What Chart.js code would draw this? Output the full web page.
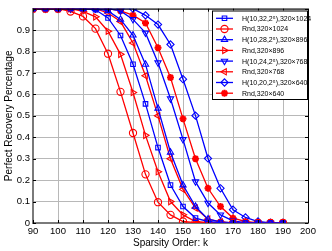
<!DOCTYPE html>
<html>
<head>
<meta charset="utf-8">
<script src="https://cdn.jsdelivr.net/npm/chart.js@4/dist/chart.umd.min.js"></script>
<style>
  html, body { margin: 0; padding: 0; background: #fff; }
  #wrap { width: 332px; height: 251px; }
</style>
</head>
<body>
<div id="wrap"><canvas id="chart"></canvas></div>
<script>
// sparsity order k (x axis)
const sparsity = [90, 95, 100, 105, 110, 115, 120, 125, 130, 135, 140, 145, 150, 155, 160, 165, 170, 175, 180, 185, 190]

// perfect recovery percentage
const h32_1024 = [1, 1, 1, 1, 1, 0.995, 0.957, 0.875, 0.741, 0.556, 0.352, 0.177, 0.077, 0.023, 0.007, 0.002, 0, 0, 0, 0, 0]
const rnd_1024 = [1, 1, 1, 0.987, 0.964, 0.907, 0.79, 0.612, 0.42, 0.227, 0.097, 0.038, 0.007, 0.002, 0, 0, 0, 0, 0, 0, 0]
const h28_896  = [1, 1, 1, 1, 1, 1, 0.99, 0.95, 0.876, 0.74, 0.535, 0.33, 0.177, 0.077, 0.018, 0.005, 0, 0, 0, 0, 0]
const rnd_896  = [1, 1, 1, 1, 0.987, 0.962, 0.895, 0.787, 0.609, 0.409, 0.239, 0.1, 0.038, 0.007, 0.002, 0, 0, 0, 0, 0, 0]
const h24_768  = [1, 1, 1, 1, 1, 1, 1, 0.99, 0.95, 0.887, 0.748, 0.58, 0.39, 0.193, 0.093, 0.038, 0.01, 0.002, 0, 0, 0]
const rnd_768  = [1, 1, 1, 1, 1, 1, 0.98, 0.94, 0.84, 0.687, 0.5, 0.3, 0.157, 0.07, 0.018, 0.005, 0, 0, 0, 0, 0]
const h20_640  = [1, 1, 1, 1, 1, 1, 1, 1, 1, 0.969, 0.926, 0.833, 0.671, 0.501, 0.301, 0.162, 0.062, 0.026, 0.007, 0, 0]
const rnd_640  = [1, 1, 1, 1, 1, 1, 1, 0.99, 0.97, 0.933, 0.818, 0.679, 0.486, 0.3, 0.162, 0.077, 0.023, 0.007, 0, 0, 0]

const seriesNames = [
  'H(10,32,2\u2075),320\u00d71024', 'Rnd,320\u00d71024',
  'H(10,28,2\u2075),320\u00d7896', 'Rnd,320\u00d7896',
  'H(10,24,2\u2075),320\u00d7768', 'Rnd,320\u00d7768',
  'H(10,20,2\u2075),320\u00d7640', 'Rnd,320\u00d7640',
]
const seriesValues = [h32_1024, rnd_1024, h28_896, rnd_896, h24_768, rnd_768, h20_640, rnd_640]
const markers = ['rect', 'circle', 'triangle', 'triangle', 'triangle', 'triangle', 'rectRot', 'star']
const rotations = [0, 0, 0, 90, 180, -90, 0, 0]

const BLUE = '#0000ff'
const RED = '#ff0000'
const FONT = "'Liberation Sans', Arial, sans-serif"

const datasets = seriesValues.map((vals, i) => {
  const color = i % 2 == 0 ? BLUE : RED
  const isStar = markers[i] == 'star'
  return {
    label: seriesNames[i],
    data: sparsity.map((k, j) => ({ x: k, y: vals[j] })),
    borderColor: color,
    borderWidth: 1.3,
    pointStyle: markers[i],
    pointRotation: rotations[i],
    pointRadius: isStar ? 3.5 : (markers[i] == 'rect' ? 3.2 : 3.6),
    pointBorderWidth: isStar ? 2 : 1.1,
    pointBorderColor: color,
    pointBackgroundColor: 'rgba(0,0,0,0)',
    tension: 0,
  }
})

// box, inside ticks and a MATLAB-like legend
const matlabFrame = {
  id: 'matlabFrame',
  afterDraw(chart) {
    const ctx = chart.ctx
    const a = chart.chartArea
    const xs = chart.scales.x
    const ys = chart.scales.y
    ctx.save()
    ctx.strokeStyle = '#000'
    ctx.lineWidth = 1
    ctx.beginPath()
    ctx.moveTo(a.left, a.top + 0.5)
    ctx.lineTo(a.right + 0.5, a.top + 0.5)
    ctx.lineTo(a.right + 0.5, a.bottom)
    ctx.stroke()
    ctx.beginPath()
    xs.ticks.forEach(t => {
      const px = Math.round(xs.getPixelForValue(t.value)) + 0.5
      ctx.moveTo(px, a.bottom); ctx.lineTo(px, a.bottom - 3)
      ctx.moveTo(px, a.top); ctx.lineTo(px, a.top + 3)
    })
    ys.ticks.forEach(t => {
      const py = Math.round(ys.getPixelForValue(t.value)) + 0.5
      ctx.moveTo(a.left, py); ctx.lineTo(a.left + 3, py)
      ctx.moveTo(a.right, py); ctx.lineTo(a.right - 3, py)
    })
    ctx.stroke()

    // legend
    const bx = 212, by = 10.5, bw = 95, bh = 88.5
    ctx.fillStyle = '#fff'
    ctx.fillRect(bx, by, bw, bh)
    ctx.strokeStyle = '#000'
    ctx.strokeRect(bx + 0.5, by + 0.5, bw, bh)
    ctx.font = '7px ' + FONT
    ctx.textBaseline = 'middle'
    chart.data.datasets.forEach((ds, i) => {
      const y = 18.3 + i * 10.7
      ctx.strokeStyle = ds.borderColor
      ctx.lineWidth = ds.borderWidth
      ctx.beginPath()
      ctx.moveTo(216, y); ctx.lineTo(233, y)
      ctx.stroke()
      ctx.lineWidth = ds.pointBorderWidth
      ctx.fillStyle = 'rgba(0,0,0,0)'
      Chart.helpers.drawPoint(ctx, {
        pointStyle: ds.pointStyle,
        rotation: ds.pointRotation,
        radius: ds.pointRadius,
        borderWidth: ds.pointBorderWidth,
      }, 224.5, y)
      ctx.fillStyle = '#000'
      ctx.fillText(ds.label, 242, y + 0.5)
    })
    ctx.restore()
  }
}

new Chart(document.getElementById('chart').getContext('2d'), {
  type: 'line',
  data: { datasets: datasets },
  plugins: [matlabFrame],
  options: {
    responsive: true,
    maintainAspectRatio: false,
    animation: false,
    layout: { padding: { top: 7, right: 24, left: 0, bottom: 0 } },
    plugins: {
      legend: { display: false },
      tooltip: { enabled: false },
    },
    scales: {
      x: {
        type: 'linear',
        min: 90,
        max: 200,
        ticks: { stepSize: 10, padding: 3, color: '#000', font: { family: FONT, size: 9.5 }, maxRotation: 0 },
        grid: { color: '#b8b8b8', borderDash: [1, 2], drawTicks: false },
        border: { display: true, color: '#7a7a7a', width: 2 },
        title: { display: true, text: 'Sparsity Order: k', color: '#000', font: { family: FONT, size: 10 }, padding: { top: 0, bottom: 2 } },
        afterFit(scale) { scale.height = 28 },
      },
      y: {
        min: 0,
        max: 1,
        ticks: {
          stepSize: 0.1, padding: 3, color: '#000', font: { family: FONT, size: 9.5 },
          callback: v => (v >= 1 ? '' : String(Math.round(v * 10) / 10)),
        },
        grid: { color: '#b8b8b8', borderDash: [1, 2], drawTicks: false },
        border: { display: true, color: '#7a7a7a', width: 2 },
        title: { display: true, text: 'Perfect Recovery Percentage', color: '#000', font: { family: FONT, size: 10 }, padding: { top: 3, bottom: 0 } },
        afterFit(scale) { scale.width = 33 },
      },
    },
  },
})
</script>
</body>
</html>
